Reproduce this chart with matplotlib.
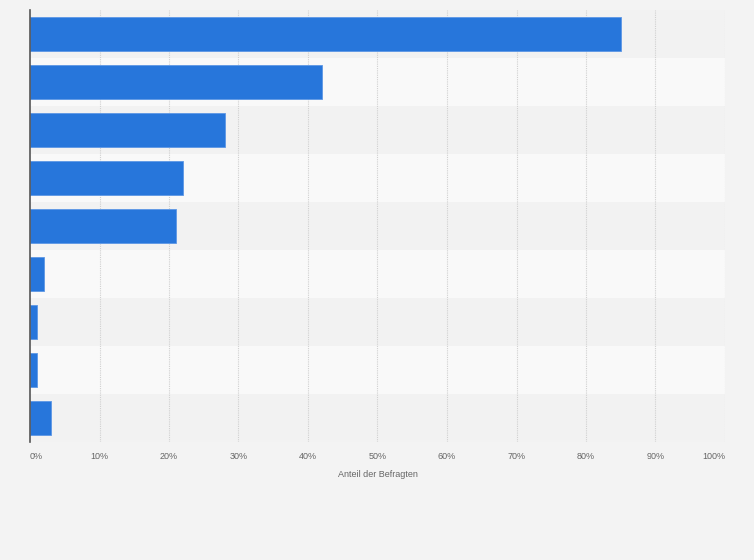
import matplotlib.pyplot as plt

# Anteil der Befragten in Prozent, von oben nach unten
werte = [85, 42, 28, 22, 21, 2, 1, 1, 3]
ticks = [0, 10, 20, 30, 40, 50, 60, 70, 80, 90, 100]
tick_labels = ["0%", "10%", "20%", "30%", "40%", "50%", "60%", "70%", "80%", "90%", "100%"]

plt.rcParams['font.family'] = ['Liberation Sans', 'DejaVu Sans']

fig = plt.figure(figsize=(7.54, 5.6), dpi=100, facecolor="#f3f3f3")
ax = fig.add_axes([30 / 754, 1 - 442 / 560, 695 / 754, 432 / 560])
ax.set_facecolor("#f3f3f3")

pos = list(range(len(werte)))

# abwechselnde Zeilenbaender
for i in pos:
    col = "#f2f2f2" if i % 2 == 0 else "#f9f9f9"
    ax.axhspan(i - 0.5, i + 0.5, color=col, zorder=0, lw=0)

for t in ticks[1:]:
    ax.axvline(t, color="#d0d0d0", lw=0.8, ls=(0, (1, 1)), zorder=1)

ax.barh(pos, werte, height=0.69, color="#2776db", edgecolor="#5d97e5",
        linewidth=0.6, zorder=2)

ax.set_xlim(0, 100)
ax.set_ylim(len(werte) - 0.5, -0.5)
ax.set_yticks([])
ax.set_xticks([])

for sp in ["top", "right", "bottom"]:
    ax.spines[sp].set_visible(False)
ax.spines["left"].set_color("#555555")
ax.spines["left"].set_linewidth(1.2)
ax.spines["left"].set_zorder(3)

# Achsenbeschriftung unten (0% und 100% nach innen versetzt)
for t, lab in zip(ticks, tick_labels):
    ha = "center"
    if t == 0:
        ha = "left"
    elif t == 100:
        ha = "right"
    ax.annotate(lab, xy=(t, 0), xycoords=("data", "axes fraction"),
                xytext=(0, -10.5), textcoords="offset points",
                ha=ha, va="center", fontsize=6.5, color="#666666")

ax.annotate("Anteil der Befragten", xy=(0.5, 0), xycoords="axes fraction",
            xytext=(0, -23.5), textcoords="offset points",
            ha="center", va="center", fontsize=6.5, color="#666666")

plt.savefig("out.png", dpi=100, facecolor=fig.get_facecolor())
